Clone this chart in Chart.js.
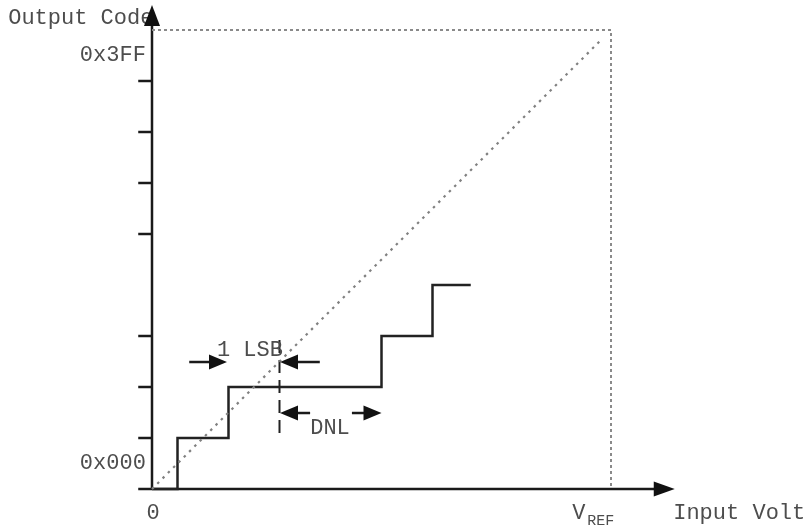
<!DOCTYPE html>
<html>
<head>
<meta charset="utf-8">
<script src="https://cdn.jsdelivr.net/npm/chart.js@4/dist/chart.umd.min.js"></script>
<style>
html,body{margin:0;padding:0;background:#fff;}
#wrap{width:811px;height:529px;position:relative;}
</style>
</head>
<body>
<div id="wrap"><canvas id="c" width="811" height="529"></canvas></div>
<script>
// ---- data (units: x in LSB of input voltage, y in output code steps) ----
const codeLevels = [0, 1, 2, 3, 4];            // output codes of the staircase
const transitionX = [0.5, 1.5, 4.5, 5.5];      // input levels where code steps up
const stairEndX = 6.25;                          // end of the last drawn step
const fullScale = 9;                             // V_REF / 0x3FF position
const yTickValues = [1, 2, 3, 5, 6, 7, 8];       // tick marks on output axis
const dnlMarkerX = 2.5;                          // dashed transition marker
const dnlMarkerY = [1.1, 3.0];
const lsbArrows = [[0.73, 1.47, 2.49], [3.29, 2.51, 2.49]];   // [from, to, y]
const dnlArrows = [[3.1, 2.51, 1.49], [3.92, 4.5, 1.49]];
const textLabels = [
  {t: 'Output Code', x: -2.82, y: 9.24, align: 'left'},
  {t: '0x3FF', x: -0.12, y: 8.51, align: 'right'},
  {t: '0x000', x: -0.12, y: 0.51, align: 'right'},
  {t: '0', x: 0.02, y: -0.47, align: 'center'},
  {t: 'Input Volt', x: 10.22, y: -0.47, align: 'left'},
  {t: '1 LSB', x: 1.92, y: 2.73, align: 'center'},
  {t: 'DNL', x: 3.49, y: 1.2, align: 'center'}
];
const axisX = [-0.27, 10.25];
const axisY = [0, 9.49];

// ---- build datasets from the arrays ----
const stairs = [{x: 0, y: codeLevels[0]}];
transitionX.forEach((tx, i) => {
  stairs.push({x: tx, y: codeLevels[i]});
  stairs.push({x: tx, y: codeLevels[i + 1]});
});
stairs.push({x: stairEndX, y: codeLevels[codeLevels.length - 1]});

const lineDs = (data, color, width, dash) => ({
  type: 'line', data, borderColor: color, borderWidth: width,
  borderDash: dash || [], pointRadius: 0, fill: false, tension: 0, clip: false
});

const datasets = [
  lineDs([{x: 0, y: fullScale}, {x: fullScale, y: fullScale}, {x: fullScale, y: 0}], '#8a8a8a', 2, [3, 3]),
  lineDs([{x: 0, y: 0}, {x: fullScale - 0.2, y: fullScale - 0.2}], '#808080', 2.2, [2.5, 5]),
  lineDs(stairs, '#222', 2.5),
  lineDs([{x: dnlMarkerX, y: dnlMarkerY[0]}, {x: dnlMarkerX, y: dnlMarkerY[1]}], '#222', 2, [13, 7])
];
datasets.push(lineDs([{x: axisX[0], y: 0}, {x: axisX[1] - 0.2, y: 0}], '#1a1a1a', 2.5));
datasets.push(lineDs([{x: 0, y: 0}, {x: 0, y: axisY[1] - 0.2}], '#1a1a1a', 2.5));
yTickValues.forEach(v => datasets.push(lineDs([{x: -0.27, y: v}, {x: 0, y: v}], '#1a1a1a', 2.5)));
lsbArrows.concat(dnlArrows).forEach(a => {
  const dir = Math.sign(a[1] - a[0]);
  datasets.push(lineDs([{x: a[0], y: a[2]}, {x: a[1] - dir * 0.2, y: a[2]}], '#1a1a1a', 2.5));
});

const FONT = '22px "Liberation Mono", "DejaVu Sans Mono", monospace';

const overlay = {
  id: 'overlay',
  afterDatasetsDraw(chart) {
    const {ctx, scales: {x, y}} = chart;
    const px = v => x.getPixelForValue(v), py = v => y.getPixelForValue(v);
    ctx.save();
    ctx.fillStyle = '#4d4d4d';
    ctx.font = FONT;
    ctx.textBaseline = 'middle';
    textLabels.forEach(l => {
      ctx.textAlign = l.align;
      ctx.fillText(l.t, px(l.x), py(l.y));
    });
    // V_REF with subscript
    ctx.textAlign = 'left';
    ctx.fillText('V', px(8.24), py(-0.47));
    ctx.font = '15px "Liberation Mono", "DejaVu Sans Mono", monospace';
    ctx.fillText('REF', px(8.24) + 15, py(-0.47) + 8);
    // arrowheads
    ctx.fillStyle = '#111';
    const tri = (tx, ty, dx, dy, len, half) => {
      ctx.beginPath();
      ctx.moveTo(tx, ty);
      ctx.lineTo(tx - dx * len - dy * half, ty - dy * len + dx * half);
      ctx.lineTo(tx - dx * len + dy * half, ty - dy * len - dx * half);
      ctx.closePath();
      ctx.fill();
    };
    tri(px(axisX[1]), py(0), 1, 0, 21, 7.5);
    tri(px(0), py(axisY[1]), 0, -1, 21, 8);
    lsbArrows.concat(dnlArrows).forEach(a => {
      const dir = Math.sign(a[1] - a[0]);
      tri(px(a[1]), py(a[2]), dir, 0, 18, 7.5);
    });
    ctx.restore();
  }
};

new Chart(document.getElementById('c'), {
  type: 'scatter',
  data: {datasets},
  options: {
    responsive: false,
    animation: false,
    events: [],
    layout: {padding: 0},
    plugins: {legend: {display: false}, tooltip: {enabled: false}},
    scales: {
      x: {type: 'linear', display: false, min: -152 / 51, max: (811 - 152) / 51},
      y: {type: 'linear', display: false, min: -(529 - 489) / 51, max: 489 / 51}
    }
  },
  plugins: [overlay]
});
</script>
</body>
</html>
